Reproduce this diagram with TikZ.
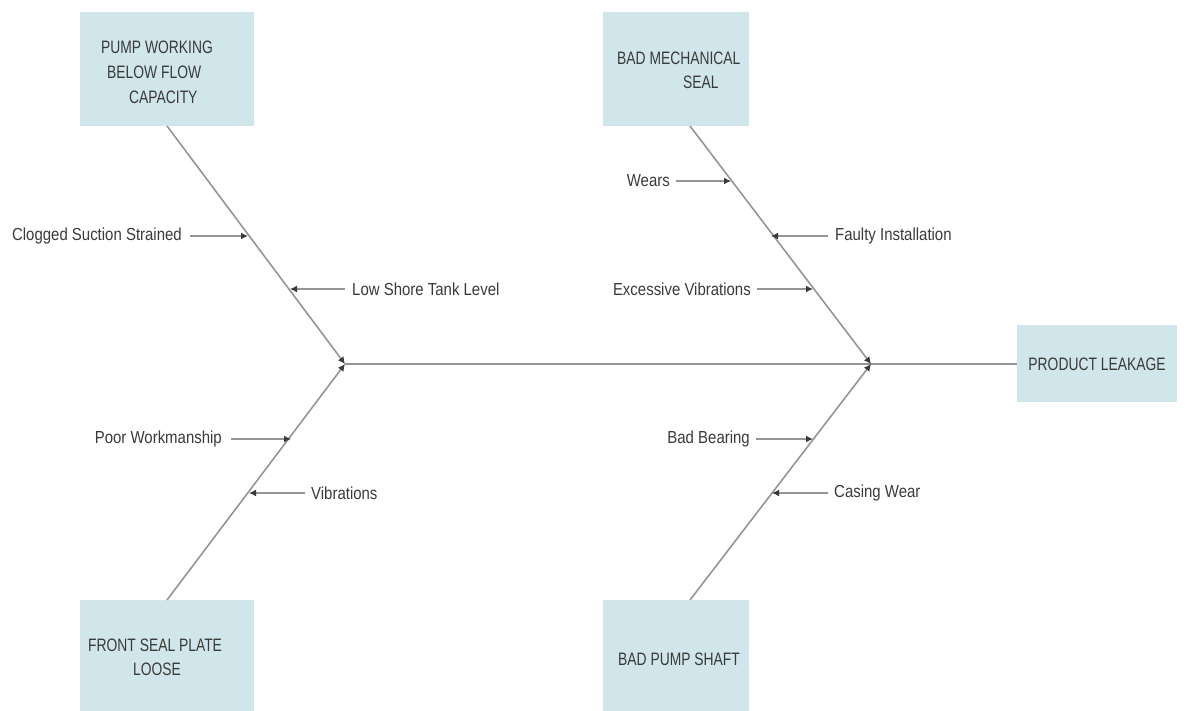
\documentclass[tikz,border=0pt]{standalone}
\usepackage{fontspec}
\setmainfont[FakeStretch=0.86]{Liberation Sans}
\newfontfamily\boxfont[FakeStretch=0.77]{Liberation Sans}
\usetikzlibrary{arrows.meta}
\definecolor{boxfill}{HTML}{D0E6EA}
\definecolor{bone}{HTML}{959595}
\definecolor{ink}{HTML}{3A3A3A}
\begin{document}
\begin{tikzpicture}[x=1pt,y=-1pt,
  cat/.style={fill=boxfill,draw=none,inner sep=0pt,anchor=north west},
  lbl/.style={text=ink,font=\fontsize{17.4}{22}\selectfont,inner sep=0pt},
  boxlbl/.style={text=ink,font=\boxfont\fontsize{18}{22}\selectfont,inner sep=0pt,anchor=west},
  bonearrow/.style={draw=bone,line width=1.6pt,-{Latex[length=7pt,width=7pt,color=ink]}},
  cause/.style={draw=bone,line width=1.6pt,-{Latex[length=7pt,width=7pt,color=ink]}}]
\useasboundingbox (0,0) rectangle (1192,711);

% category boxes
\node[cat,minimum width=174pt,minimum height=114pt] (pump) at (80,12) {};
\node[cat,minimum width=146pt,minimum height=114pt] (seal) at (603,12) {};
\node[cat,minimum width=174pt,minimum height=111pt] (plate) at (80,600) {};
\node[cat,minimum width=146pt,minimum height=111pt] (shaft) at (603,600) {};
\node[cat,minimum width=160pt,minimum height=77pt] (leak) at (1017,325) {};

% box texts
\node[boxlbl] (tpump1) at (101,47) {PUMP WORKING};
\node[boxlbl] (tpump2) at (107,72) {BELOW FLOW};
\node[boxlbl] (tpump3) at (129,97) {CAPACITY};
\node[boxlbl] (tseal1) at (617,58) {BAD MECHANICAL};
\node[boxlbl] (tseal2) at (683,82) {SEAL};
\node[boxlbl] (tplate1) at (88,645) {FRONT SEAL PLATE};
\node[boxlbl] (tplate2) at (133,669) {LOOSE};
\node[boxlbl] (tshaft) at (618,659) {BAD PUMP SHAFT};
\node[boxlbl,anchor=center] (tleak) at (1097,364) {PRODUCT LEAKAGE};

% spine and bones
\coordinate (jl) at (345,364);
\coordinate (jr) at (871,364);
\coordinate (pumpfoot) at (167,126);
\coordinate (platehead) at (167,600);
\coordinate (sealfoot) at (690,126);
\coordinate (shafthead) at (690,600);
\draw[draw=bone,line width=1.6pt] (leak.west |- jl) -- (jl);
\draw[bonearrow] (pumpfoot) -- (jl);
\draw[bonearrow] (platehead) -- (jl);
\draw[bonearrow] (sealfoot) -- (jr);
\draw[bonearrow] (shafthead) -- (jr);

% causes
\node[lbl,anchor=east] (c1) at (182,236) {Clogged Suction Strained};
\coordinate (c1t) at (248,236);
\draw[cause] ([xshift=8pt]c1.east) -- (c1t);
\node[lbl,anchor=west] (c2) at (352,289) {Low Shore Tank Level};
\coordinate (c2t) at (290,289);
\draw[cause] ([xshift=-7pt]c2.west) -- (c2t);
\node[lbl,anchor=east] (c3) at (222,439) {Poor Workmanship};
\coordinate (c3t) at (291,439);
\draw[cause] ([xshift=9pt]c3.east) -- (c3t);
\node[lbl,anchor=west] (c4) at (311,493) {Vibrations};
\coordinate (c4t) at (249,493);
\draw[cause] ([xshift=-6pt]c4.west) -- (c4t);

\node[lbl,anchor=east] (c5) at (670,181) {Wears};
\coordinate (c5t) at (731,181);
\draw[cause] ([xshift=6pt]c5.east) -- (c5t);
\node[lbl,anchor=west] (c6) at (835,236) {Faulty Installation};
\coordinate (c6t) at (771,236);
\draw[cause] ([xshift=-7pt]c6.west) -- (c6t);
\node[lbl,anchor=east] (c7) at (751,289) {Excessive Vibrations};
\coordinate (c7t) at (813,289);
\draw[cause] ([xshift=6pt]c7.east) -- (c7t);
\node[lbl,anchor=east] (c8) at (750,439) {Bad Bearing};
\coordinate (c8t) at (813,439);
\draw[cause] ([xshift=6pt]c8.east) -- (c8t);
\node[lbl,anchor=west] (c9) at (834,493) {Casing Wear};
\coordinate (c9t) at (772,493);
\draw[cause] ([xshift=-6pt]c9.west) -- (c9t);
\end{tikzpicture}
\end{document}
